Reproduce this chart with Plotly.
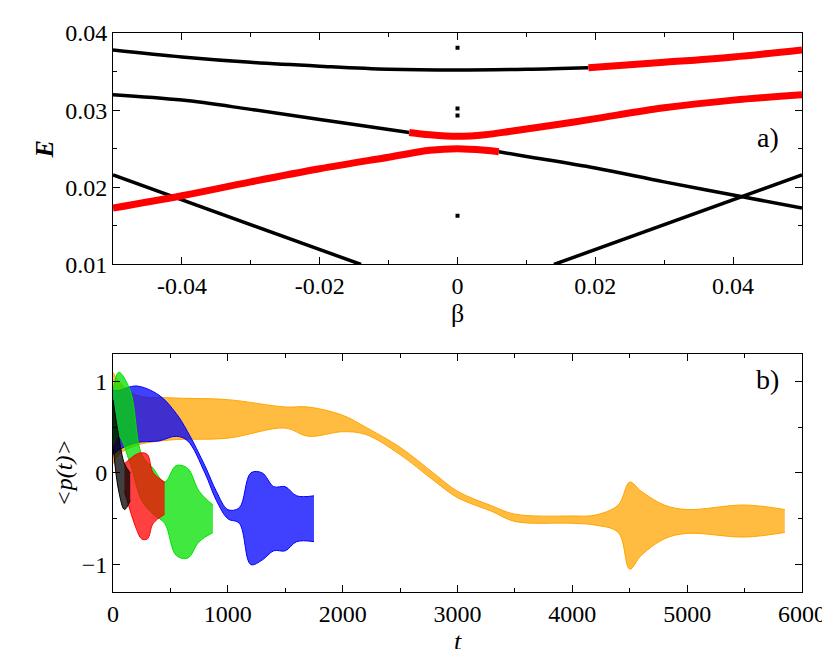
import plotly.graph_objects as go

# ---- panel a) : levels E(beta) ----
c1_b = [-0.05, -0.04, -0.03, -0.02, -0.01, 0.0, 0.01, 0.019]
c1_e = [0.0378, 0.0369, 0.0362, 0.0357, 0.0353, 0.0352, 0.0353, 0.0355]
c1r_b = [0.019, 0.03, 0.04, 0.05]
c1r_e = [0.0355, 0.0362, 0.0369, 0.0378]

c2_b = [-0.05, -0.04, -0.03, -0.02, -0.01, -0.007]
c2_e = [0.0320, 0.0313, 0.0301, 0.0288, 0.0275, 0.0271]
c2r_b = [-0.007, -0.004, 0.0, 0.004, 0.008, 0.015, 0.02, 0.03, 0.04, 0.05]
c2r_e = [0.0271, 0.0268, 0.0266, 0.0268, 0.0273, 0.0282, 0.0289, 0.0303, 0.0313, 0.0320]

c3r_b = [-0.05, -0.04, -0.03, -0.02, -0.01, -0.004, 0.0, 0.004, 0.006]
c3r_e = [0.0173, 0.0189, 0.0207, 0.0224, 0.0239, 0.0248, 0.0250, 0.0248, 0.0246]
c3_b = [0.006, 0.01, 0.02, 0.03, 0.04, 0.05]
c3_e = [0.0246, 0.0240, 0.0225, 0.0207, 0.0190, 0.0173]

c4l_b = [-0.05, -0.014]
c4l_e = [0.0216, 0.0100]
c4r_b = [0.014, 0.05]
c4r_e = [0.0100, 0.0216]

dots_b = [0.0, 0.0, 0.0, 0.0]
dots_e = [0.0381, 0.0302, 0.0293, 0.0163]

# ---- panel b) : envelopes of <p(t)> ----
orange_t = [0, 50, 200, 500, 1000, 1500, 1700, 2000, 2200, 2500, 2800, 3000, 3300, 3500,
            4000, 4200, 4400, 4500, 4600, 4800, 5000, 5500, 5850]
orange_hi = [1.1, 1.0, 0.85, 0.82, 0.8, 0.72, 0.72, 0.63, 0.5, 0.28, -0.01, -0.2, -0.36, -0.45,
             -0.47, -0.46, -0.35, -0.1, -0.2, -0.35, -0.4, -0.35, -0.4]
orange_lo = [0.1, 0.2, 0.3, 0.36, 0.38, 0.49, 0.4, 0.45, 0.42, 0.2, -0.09, -0.27, -0.42, -0.53,
             -0.55, -0.57, -0.65, -1.05, -0.9, -0.72, -0.66, -0.7, -0.65]

blue_t = [0, 50, 200, 400, 550, 650, 800, 900, 1000, 1100, 1200, 1300, 1400, 1500, 1600, 1750]
blue_hi = [0.9, 0.9, 0.95, 0.85, 0.65, 0.45, 0.08, -0.2, -0.4, -0.38, 0.0, 0.0, -0.15, -0.15, -0.25, -0.25]
blue_lo = [0.2, 0.25, 0.33, 0.35, 0.4, 0.35, 0.0, -0.3, -0.5, -0.55, -1.0, -0.95, -0.85, -0.85, -0.75, -0.75]

green_t = [0, 50, 150, 250, 350, 450, 550, 650, 750, 870]
green_hi = [0.9, 1.1, 0.9, 0.2, 0.05, -0.1, 0.08, 0.05, -0.2, -0.35]
green_lo = [0.3, 0.4, 0.1, -0.3, -0.45, -0.55, -0.9, -0.93, -0.75, -0.65]

red_t = [100, 200, 250, 300, 350, 450]
red_hi = [0.1, 0.2, 0.22, 0.2, 0.0, -0.1]
red_lo = [-0.2, -0.6, -0.72, -0.72, -0.55, -0.45]

black_t = [0, 50, 100, 150]
black_hi = [0.8, 0.4, 0.1, 0.0]
black_lo = [0.3, -0.2, -0.4, -0.3]

SERIF = "Liberation Serif"

fig = go.Figure()

def line(x, y, color, w):
    fig.add_trace(go.Scatter(x=x, y=y, mode="lines", line=dict(color=color, width=w, shape="spline"),
                             xaxis="x", yaxis="y", showlegend=False))

line(c4l_b, c4l_e, "black", 3.5)
line(c4r_b, c4r_e, "black", 3.5)
line(c1_b, c1_e, "black", 3.5)
line(c2_b, c2_e, "black", 3.5)
line(c3_b, c3_e, "black", 3.5)
line(c1r_b, c1r_e, "red", 7)
line(c2r_b, c2r_e, "red", 7)
line(c3r_b, c3r_e, "red", 7)
fig.add_trace(go.Scatter(x=dots_b, y=dots_e, mode="markers",
                         marker=dict(color="black", size=4, symbol="square"),
                         xaxis="x", yaxis="y", showlegend=False))

def band(t, hi, lo, color, fill):
    fig.add_trace(go.Scatter(x=t, y=hi, mode="lines", line=dict(color=color, width=1, shape="spline"),
                             xaxis="x2", yaxis="y2", showlegend=False))
    fig.add_trace(go.Scatter(x=t, y=lo, mode="lines", line=dict(color=color, width=1, shape="spline"),
                             fill="tonexty", fillcolor=fill,
                             xaxis="x2", yaxis="y2", showlegend=False))

band(orange_t, orange_hi, orange_lo, "orange", "rgba(255,165,0,0.75)")
band(blue_t, blue_hi, blue_lo, "blue", "rgba(0,0,255,0.75)")
band(green_t, green_hi, green_lo, "#00e000", "rgba(0,224,0,0.75)")
band(red_t, red_hi, red_lo, "red", "rgba(255,0,0,0.75)")
band(black_t, black_hi, black_lo, "black", "rgba(0,0,0,0.75)")

tick_font = dict(family=SERIF, size=24, color="black")
common = dict(showgrid=False, zeroline=False, showline=True, linecolor="black", linewidth=1,
              mirror="allticks", ticks="inside", ticklen=7, tickcolor="black",
              tickfont=tick_font)

fig.update_layout(
    width=830, height=649, plot_bgcolor="white", paper_bgcolor="white",
    font=dict(family=SERIF, color="black"),
    margin=dict(l=105, r=28, t=22, b=64),
    xaxis=dict(domain=[0, 1], range=[-0.05, 0.05], anchor="y",
               tickvals=[-0.04, -0.02, 0, 0.02, 0.04], ticktext=["-0.04", "-0.02", "0", "0.02", "0.04"],
               minor=dict(dtick=0.01, ticks="inside", ticklen=4, tickcolor="black"),
               title=dict(text="β", font=dict(family=SERIF, size=26, color="black"), standoff=0),
               **common),
    yaxis=dict(domain=[0.586, 1.0], range=[0.01, 0.04], dtick=0.01, anchor="x",
               tickformat=".2f",
               minor=dict(dtick=0.005, ticks="inside", ticklen=4, tickcolor="black"),
               title=dict(text="<b><i>E</i></b>", font=dict(family=SERIF, size=26, color="black"), standoff=4),
               **common),
    xaxis2=dict(domain=[0, 1], range=[0, 6000], dtick=1000, anchor="y2",
                minor=dict(dtick=500, ticks="inside", ticklen=4, tickcolor="black"),
                title=dict(text="<i>t</i>", font=dict(family=SERIF, size=26, color="black"), standoff=0),
                **common),
    yaxis2=dict(domain=[0, 0.426], range=[-1.3, 1.3], dtick=1, anchor="x2",
                minor=dict(dtick=0.5, ticks="inside", ticklen=4, tickcolor="black"),
                title=dict(text="<i><p(t)></i>", font=dict(family=SERIF, size=24, color="black"), standoff=2),
                **common),
    annotations=[
        dict(text="a)", x=0.97, y=0.845, xref="paper", yref="paper", showarrow=False,
             font=dict(family=SERIF, size=28, color="black")),
        dict(text="b)", x=0.97, y=0.38, xref="paper", yref="paper", showarrow=False,
             font=dict(family=SERIF, size=28, color="black")),
    ],
)

fig.write_html("out.html")
